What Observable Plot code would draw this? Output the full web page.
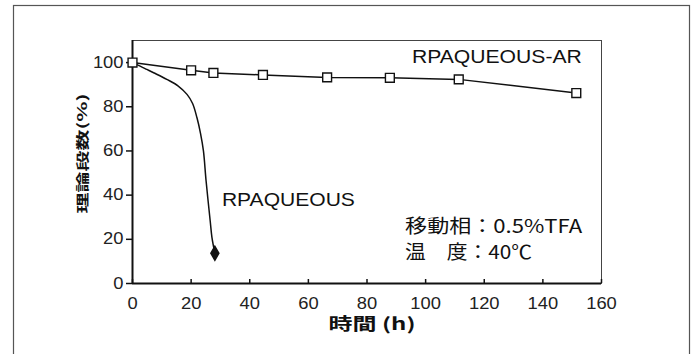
<!DOCTYPE html>
<html><head><meta charset="utf-8">
<script src="https://cdn.jsdelivr.net/npm/d3@7"></script>
<script src="https://cdn.jsdelivr.net/npm/@observablehq/plot@0.6"></script>
<style>
body{margin:0;background:#fff}
</style>
</head><body><div id="chart"></div>
<script>
// RPAQUEOUS-AR (open squares)
const arTime = [0, 20, 27.6, 44.5, 66.4, 87.8, 111.3, 151.4];
const arPlates = [100, 96.5, 95.3, 94.4, 93.3, 93.1, 92.4, 86.2];
// RPAQUEOUS (curve, last point a filled diamond)
const aqTime = [0, 2.6, 4.9, 7.2, 11.7, 15.5, 18.6, 20.5, 22, 23.2, 24.2, 25.1, 26.5, 27.1, 28.1];
const aqPlates = [100, 98.4, 96.9, 95.4, 92.4, 89.5, 85.6, 81.5, 75, 68, 60, 46.5, 28.4, 20.9, 13.7];
const xTicks = [0, 20, 40, 60, 80, 100, 120, 140, 160];
const yTicks = [0, 20, 40, 60, 80, 100];
const xLabel = "時間 (h)";
const yLabel = "理論段数(%)";
const seriesNames = ["RPAQUEOUS-AR", "RPAQUEOUS"];
const conditionLines = ["移動相：0.5%TFA", "温　度：40℃"];

const ar = arTime.map((t, i) => ({t, p: arPlates[i]}));
const aq = aqTime.map((t, i) => ({t, p: aqPlates[i]}));
const font = "'Liberation Sans', 'Noto Sans CJK JP', sans-serif";
const jp = "'Noto Sans CJK JP', sans-serif";

const chart = Plot.plot({
  width: 698, height: 354,
  marginLeft: 132, marginRight: 97, marginTop: 40, marginBottom: 71,
  style: {fontFamily: font, fontSize: "16px", color: "#222", background: "#fff", overflow: "visible"},
  x: {domain: [0, 160]},
  y: {domain: [0, 110]},
  marks: [
    Plot.frame({insetLeft: -119, insetTop: -35, insetRight: -88, insetBottom: -90, stroke: "#555", strokeWidth: 1.2}),
    Plot.frame({stroke: "#444", strokeWidth: 1}),
    Plot.axisY(yTicks, {tickSize: 6, tickPadding: 3, fontSize: 16, label: null, stroke: "#111", strokeWidth: 1.5}),
    Plot.axisX(xTicks, {tickSize: -4, tickPadding: 18, fontSize: 16, label: null, stroke: "#111", strokeWidth: 1.5}),
    Plot.ruleY([0], {stroke: "#111", strokeWidth: 2}),
    Plot.ruleX([0], {stroke: "#111", strokeWidth: 2}),
    Plot.line(aq, {x: "t", y: "p", curve: "catmull-rom", stroke: "#111", strokeWidth: 1.5}),
    Plot.line(ar, {x: "t", y: "p", stroke: "#111", strokeWidth: 1.5}),
    Plot.dot(ar, {x: "t", y: "p", symbol: "square", r: 5, fill: "#fff", stroke: "#111", strokeWidth: 1.4}),
    Plot.dot(aq.slice(-1), {x: "t", y: "p", symbol: "diamond", r: 4.2, fill: "#111", stroke: "#111"}),
    Plot.text([seriesNames[0]], {x: 153.3, y: 102.6, text: d => d, textAnchor: "end", fontSize: 18, fill: "#111"}),
    Plot.text([seriesNames[1]], {x: 30.5, y: 37.5, text: d => d, textAnchor: "start", fontSize: 18, fill: "#111"}),
    Plot.text([conditionLines[0]], {x: 93, y: 25.7, text: d => d, textAnchor: "start", fontSize: 19, fill: "#111", fontFamily: jp}),
    Plot.text([conditionLines[1]], {x: 93, y: 14, text: d => d, textAnchor: "start", fontSize: 19, fill: "#111", fontFamily: jp}),
    Plot.text([xLabel], {frameAnchor: "bottom", text: d => d, dx: 5, dy: 46, fontSize: 17, fontWeight: "bold", fill: "#111", fontFamily: jp}),
    Plot.text([yLabel], {frameAnchor: "left", text: d => d, fontSize: 13, fontWeight: "bold", fill: "#111", fontFamily: jp})
  ]
});
document.getElementById("chart").append(chart);

// stretch texts horizontally like the reference picture
const lengths = {};
lengths[seriesNames[0]] = 170;
lengths[seriesNames[1]] = 133;
lengths[conditionLines[0]] = 177;
lengths[conditionLines[1]] = 127;
lengths[xLabel] = 87;
d3.select(chart).selectAll("text").each(function() {
  const s = this.textContent.trim();
  if (/^\d+$/.test(s)) {
    this.style.fontSize = "16px";
    this.setAttribute("fill", "#222");
    this.setAttribute("textLength", 10.2 * s.length);
    this.setAttribute("lengthAdjust", "spacingAndGlyphs");
  }
  if (lengths[s]) {
    this.setAttribute("textLength", lengths[s]);
    this.setAttribute("lengthAdjust", "spacingAndGlyphs");
  }
  if (s === yLabel) {
    // rotate the y label to read bottom-to-top, centred left of the axis, stretched along its length
    const w = this.getComputedTextLength() || 72;
    const k = 120 / w;
    this.removeAttribute("x");
    this.removeAttribute("y");
    this.setAttribute("text-anchor", "middle");
    this.setAttribute("dy", "0.35em");
    this.setAttribute("transform", `translate(81.5,153) rotate(-90) scale(${k},1)`);
  }
});
</script></body></html>
